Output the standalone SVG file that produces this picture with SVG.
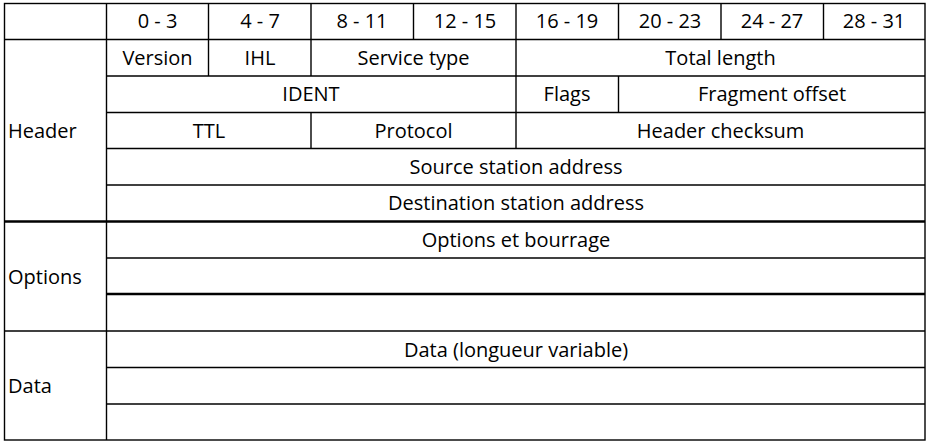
<svg xmlns="http://www.w3.org/2000/svg" width="929" height="444" viewBox="0 0 929 444">
  <style>
    .g { stroke: #000; stroke-width: 1.4; fill: none; }
    .thick { stroke: #000; stroke-width: 2.4; fill: none; }
    text { font-family: "Open Sans", "Liberation Sans", sans-serif; font-size: 20px; fill: #000; }
    .c { text-anchor: middle; }
  </style>
  <rect width="929" height="444" fill="#fff"/>

  <!-- grid lines -->
  <g id="grid">
    <rect class="g" x="4.5" y="3.5" width="920.5" height="436.5"/>
    <!-- label column divider -->
    <line class="g" x1="106.5" y1="3.5" x2="106.5" y2="440"/>
    <!-- horizontal rules -->
    <line class="g" x1="4.5" y1="39.5" x2="925" y2="39.5"/>
    <line class="g" x1="106.5" y1="76" x2="925" y2="76"/>
    <line class="g" x1="106.5" y1="112.5" x2="925" y2="112.5"/>
    <line class="g" x1="106.5" y1="148.5" x2="925" y2="148.5"/>
    <line class="g" x1="106.5" y1="185" x2="925" y2="185"/>
    <line class="thick" x1="4.5" y1="221.5" x2="925" y2="221.5"/>
    <line class="g" x1="106.5" y1="258" x2="925" y2="258"/>
    <line class="thick" x1="106.5" y1="294" x2="925" y2="294"/>
    <line class="g" x1="4.5" y1="331" x2="925" y2="331"/>
    <line class="g" x1="106.5" y1="367.5" x2="925" y2="367.5"/>
    <line class="g" x1="106.5" y1="404" x2="925" y2="404"/>
    <!-- bit column dividers, header row -->
    <line class="g" x1="208.5" y1="3.5" x2="208.5" y2="39.5"/>
    <line class="g" x1="311" y1="3.5" x2="311" y2="39.5"/>
    <line class="g" x1="413.5" y1="3.5" x2="413.5" y2="39.5"/>
    <line class="g" x1="516" y1="3.5" x2="516" y2="39.5"/>
    <line class="g" x1="618.5" y1="3.5" x2="618.5" y2="39.5"/>
    <line class="g" x1="721" y1="3.5" x2="721" y2="39.5"/>
    <line class="g" x1="823.5" y1="3.5" x2="823.5" y2="39.5"/>
    <!-- field dividers -->
    <line class="g" x1="208.5" y1="39.5" x2="208.5" y2="76"/>
    <line class="g" x1="311" y1="39.5" x2="311" y2="76"/>
    <line class="g" x1="516" y1="39.5" x2="516" y2="76"/>
    <line class="g" x1="516" y1="76" x2="516" y2="112.5"/>
    <line class="g" x1="618.5" y1="76" x2="618.5" y2="112.5"/>
    <line class="g" x1="311" y1="112.5" x2="311" y2="148.5"/>
    <line class="g" x1="516" y1="112.5" x2="516" y2="148.5"/>
  </g>

  <!-- bit ranges -->
  <g id="bits">
    <text class="c" x="157.5" y="28">0 - 3</text>
    <text class="c" x="260" y="28">4 - 7</text>
    <text class="c" x="362" y="28">8 - 11</text>
    <text class="c" x="465" y="28">12 - 15</text>
    <text class="c" x="567" y="28">16 - 19</text>
    <text class="c" x="670" y="28">20 - 23</text>
    <text class="c" x="772" y="28">24 - 27</text>
    <text class="c" x="874" y="28">28 - 31</text>
  </g>

  <!-- section labels -->
  <g id="sections">
    <text x="8" y="138">Header</text>
    <text x="8" y="284">Options</text>
    <text x="8" y="393">Data</text>
  </g>

  <!-- header fields -->
  <g id="fields">
    <text class="c" x="157.5" y="64.5">Version</text>
    <text class="c" x="260" y="64.5">IHL</text>
    <text class="c" x="413.5" y="64.5">Service type</text>
    <text class="c" x="720.5" y="64.5">Total length</text>
    <text class="c" x="311" y="101">IDENT</text>
    <text class="c" x="567" y="101">Flags</text>
    <text class="c" x="772" y="101">Fragment offset</text>
    <text class="c" x="209" y="137.5">TTL</text>
    <text class="c" x="413.5" y="137.5">Protocol</text>
    <text class="c" x="720.5" y="137.5">Header checksum</text>
    <text class="c" x="516" y="173.5">Source station address</text>
    <text class="c" x="516" y="210">Destination station address</text>
    <text class="c" x="516" y="246.5">Options et bourrage</text>
    <text class="c" x="516" y="356.5">Data (longueur variable)</text>
  </g>
</svg>
